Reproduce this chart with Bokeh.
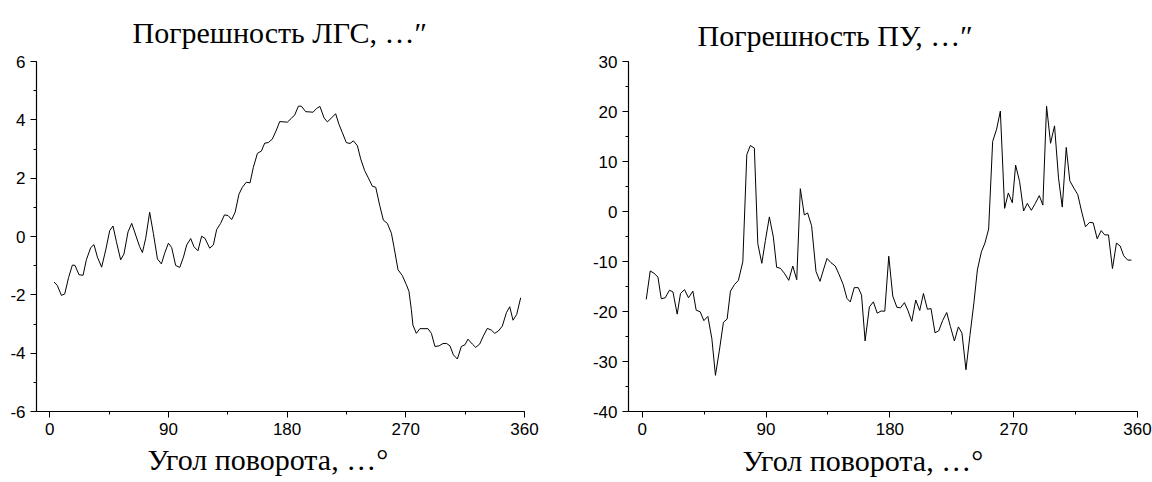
from bokeh.plotting import figure
from bokeh.layouts import row
from bokeh.models import SingleIntervalTicker, Title, CustomJSTickFormatter
from bokeh.embed import file_html
from bokeh.resources import INLINE

# --- data: left panel (ЛГС error, arc-seconds) ---
x_lgs = [3.3, 5.8, 8.9, 11.4, 14.3, 17.2, 19.2, 22.2, 25.3, 27.8,
         31.1, 33.6, 36.2, 39.4, 42.5, 45.5, 48.0, 50.6, 53.8, 56.3,
         59.4, 62.2, 65.2, 68.2, 70.3, 72.8, 75.8, 78.6, 81.7, 84.7,
         87.2, 90.0, 92.5, 95.5, 98.6, 101.4, 103.9, 106.9, 109.4, 112.4,
         115.2, 117.7, 121.3, 124.1, 126.6, 129.6, 132.5, 135.2, 138.0, 140.6,
         143.5, 146.1, 149.1, 151.9, 154.4, 157.5, 160.5, 163.0, 165.8, 168.8,
         171.9, 174.4, 177.6, 180.2, 183.2, 185.8, 188.6, 190.8, 194.1, 197.4,
         199.6, 202.4, 204.9, 208.0, 210.5, 213.8, 216.8, 219.3, 221.9, 224.9,
         227.7, 230.3, 233.3, 235.8, 238.8, 241.6, 244.7, 247.2, 250.2, 253.0,
         256.0, 259.1, 261.0, 264.1, 267.4, 270.4, 272.4, 274.2, 275.4, 278.0,
         280.7, 283.8, 286.8, 289.4, 292.1, 295.2, 298.2, 301.0, 303.5, 306.1,
         309.1, 312.1, 314.9, 317.1, 320.5, 323.0, 326.0, 328.8, 331.8, 334.9,
         337.4, 340.2, 343.2, 346.3, 348.8, 351.3, 354.1, 357.1]
y_lgs = [-1.56, -1.68, -2.02, -1.97, -1.41, -0.98, -0.99, -1.31, -1.33, -0.80,
         -0.38, -0.28, -0.71, -1.05, -0.46, 0.20, 0.36, -0.18, -0.80, -0.60,
         0.16, 0.45, 0.05, -0.35, -0.55, -0.06, 0.83, 0.11, -0.77, -0.94,
         -0.57, -0.23, -0.38, -0.99, -1.06, -0.71, -0.29, -0.07, -0.35, -0.49,
         0.01, -0.06, -0.40, -0.29, 0.24, 0.45, 0.74, 0.72, 0.58, 0.83,
         1.45, 1.69, 1.86, 1.84, 2.37, 2.85, 2.93, 3.20, 3.22, 3.34,
         3.65, 3.94, 3.93, 3.92, 4.05, 4.17, 4.47, 4.47, 4.28, 4.27,
         4.26, 4.39, 4.46, 4.07, 3.93, 4.07, 4.21, 3.85, 3.56, 3.22,
         3.19, 3.28, 3.11, 2.66, 2.26, 2.01, 1.72, 1.69, 1.07, 0.56,
         0.45, 0.11, -0.35, -1.14, -1.34, -1.65, -1.88, -2.50, -3.04, -3.32,
         -3.16, -3.16, -3.16, -3.32, -3.77, -3.75, -3.67, -3.67, -3.75, -4.06,
         -4.20, -3.77, -3.71, -3.52, -3.69, -3.80, -3.69, -3.41, -3.15, -3.21,
         -3.32, -3.24, -3.07, -2.61, -2.41, -2.87, -2.67, -2.10]

# --- data: right panel (ПУ error, arc-seconds) ---
x_pu = [2.9, 5.8, 8.5, 11.4, 13.8, 16.7, 19.8, 22.3, 25.4, 27.8,
        30.7, 33.6, 36.8, 39.2, 42.1, 44.8, 47.7, 50.6, 53.2, 56.1,
        59.0, 61.7, 64.1, 67.0, 69.9, 73.1, 76.0, 78.6, 81.5, 84.0,
        86.9, 89.5, 92.4, 95.3, 97.7, 100.4, 103.3, 106.5, 109.4, 112.3,
        114.9, 117.8, 120.2, 123.1, 126.3, 129.2, 131.9, 134.3, 137.2, 140.3,
        143.2, 146.1, 148.8, 151.2, 154.1, 157.0, 159.4, 162.0, 165.1, 168.0,
        170.8, 173.6, 176.3, 179.2, 182.1, 185.1, 187.7, 190.6, 193.2, 195.9,
        198.8, 201.7, 204.4, 207.3, 209.9, 212.8, 215.5, 218.4, 221.3, 224.0,
        226.9, 229.8, 232.4, 235.3, 238.2, 241.1, 243.6, 246.5, 249.1, 251.8,
        254.7, 257.6, 260.3, 263.4, 266.1, 269.0, 271.4, 274.3, 277.2, 279.9,
        282.8, 285.7, 288.6, 291.2, 293.9, 296.8, 299.7, 302.6, 305.3, 308.2,
        310.8, 313.7, 316.6, 319.3, 322.2, 325.1, 327.8, 330.7, 333.6, 336.2,
        338.9, 341.8, 344.7, 347.4, 350.0, 352.9, 355.6]
y_pu = [-17.58, -11.89, -12.34, -13.12, -17.45, -17.25, -15.74, -16.07, -20.53, -16.40,
        -15.62, -17.25, -15.93, -19.74, -20.06, -21.83, -20.98, -25.44, -32.77, -27.72,
        -22.16, -21.51, -15.93, -14.64, -13.77, -10.04, 11.38, 13.20, 12.67, -6.44,
        -10.37, -5.80, -1.08, -5.13, -11.16, -11.36, -12.34, -13.77, -10.90, -13.65,
        4.56, -0.69, -0.29, -2.85, -12.00, -13.97, -11.49, -9.39, -10.24, -10.90,
        -12.67, -14.64, -17.39, -18.09, -15.23, -15.23, -16.72, -25.89, -19.08, -18.07,
        -20.33, -19.90, -19.94, -8.94, -16.92, -19.16, -19.27, -18.23, -19.86, -21.96,
        -17.70, -19.80, -16.40, -19.55, -19.41, -24.26, -23.87, -21.77, -20.20, -23.01,
        -25.89, -23.08, -24.32, -31.65, -24.77, -18.23, -11.69, -8.07, -6.31, -3.50,
        13.99, 16.48, 20.08, 0.63, 3.71, 1.75, 9.27, 5.99, 0.10, 1.61,
        0.24, 1.61, 3.18, 1.28, 21.06, 13.65, 17.13, 6.66, 0.88, 12.81,
        6.13, 4.70, 3.38, 0.10, -3.05, -2.18, -2.26, -5.46, -3.83, -4.68,
        -4.68, -11.41, -6.31, -6.90, -8.86, -9.72, -9.72]

title_lgs = "Погрешность ЛГС, …″"
title_pu = "Погрешность ПУ, …″"
xlabel = "Угол поворота, …°"

SERIF = "Liberation Serif"
SANS = "Liberation Sans"


def make_panel(xs, ys, yr, y_interval, borders, title_off, title_standoff,
               xlabel_off, xlabel_standoff, title):
    left, right, top, bottom = borders
    p = figure(width=576, height=482, x_range=(-10, 360), y_range=yr,
               output_backend="svg", toolbar_location=None,
               min_border_left=left, min_border_right=right,
               min_border_top=top, min_border_bottom=bottom)
    p.xgrid.visible = False
    p.ygrid.visible = False
    p.outline_line_color = None
    p.background_fill_color = "white"
    p.border_fill_color = "white"

    p.line(xs, ys, line_color="black", line_width=1)

    p.xaxis.ticker = SingleIntervalTicker(interval=90, num_minor_ticks=2)
    p.yaxis.ticker = SingleIntervalTicker(interval=y_interval, num_minor_ticks=2)
    for ax in (p.xaxis, p.yaxis):
        ax.formatter = CustomJSTickFormatter(code="return String(tick);")
        ax.axis_line_color = "black"
        ax.axis_line_width = 1.2
        ax.major_tick_line_color = "black"
        ax.minor_tick_line_color = "black"
        ax.major_tick_in = 0
        ax.major_tick_out = 6
        ax.minor_tick_in = 0
        ax.minor_tick_out = 3
        ax.major_label_text_font = SANS
        ax.major_label_text_font_size = "17px"
        ax.major_label_text_color = "black"
        ax.major_label_standoff = 5

    p.title.text = title
    p.title.align = "left"
    p.title.offset = title_off
    p.title.standoff = title_standoff
    p.title.text_font = SERIF
    p.title.text_font_size = "30px"
    p.title.text_font_style = "normal"
    p.title.text_color = "black"

    p.add_layout(Title(text=xlabel, align="left", offset=xlabel_off,
                       standoff=xlabel_standoff,
                       text_font=SERIF, text_font_size="30px",
                       text_font_style="normal", text_color="black"), "below")
    return p


p1 = make_panel(x_lgs, y_lgs, (-6, 6), 2, (36, 52, 60, 69), 96, 26, 111, 7, title_lgs)
p2 = make_panel(x_pu, y_pu, (-40, 30), 10, (52, 15, 54, 71), 69, 20, 114, 9, title_pu)

layout = row(p1, p2)
open("out.html", "w").write(file_html(layout, INLINE))
